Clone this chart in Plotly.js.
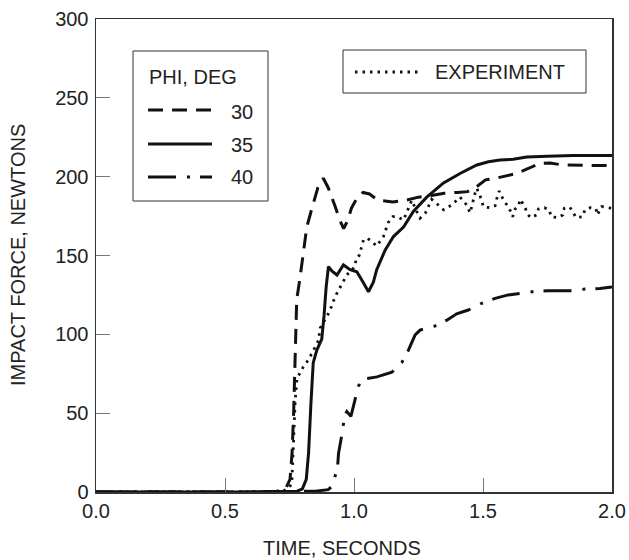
<!DOCTYPE html>
<html>
<head>
<meta charset="utf-8">
<script src="https://cdn.plot.ly/plotly-3.0.1.min.js"></script>
<style>html,body{margin:0;padding:0;background:#fff;}#chart{width:629px;height:560px;}</style>
</head>
<body>
<div id="chart"></div>
<script>
// ---- data ----
const phi30_t = [0, 0.6, 0.70, 0.735, 0.752, 0.760, 0.766, 0.772, 0.778, 0.79, 0.805, 0.817, 0.837, 0.86, 0.881, 0.90, 0.925, 0.946, 0.96, 0.975, 0.99, 1.01, 1.035, 1.06, 1.094, 1.15, 1.2, 1.25, 1.30, 1.35, 1.40, 1.44, 1.47, 1.51, 1.55, 1.59, 1.63, 1.68, 1.72, 1.76, 1.81, 1.9, 2.0];
const phi30_f = [0, 0, 0.5, 2, 8, 25, 50, 90, 122, 135, 155, 168, 180, 193, 199, 193, 182, 172, 167, 172, 180, 186, 190, 189, 185, 184, 185, 187, 188, 189.5, 190, 190.5, 193, 198, 199, 200.5, 202, 205.5, 208.5, 208.6, 207.4, 207.2, 207];

const phi35_t = [0, 0.6, 0.78, 0.80, 0.815, 0.824, 0.833, 0.842, 0.856, 0.875, 0.884, 0.892, 0.901, 0.915, 0.934, 0.959, 0.985, 1.011, 1.037, 1.056, 1.075, 1.088, 1.121, 1.153, 1.192, 1.23, 1.282, 1.347, 1.411, 1.476, 1.521, 1.566, 1.617, 1.67, 1.75, 1.85, 2.0];
const phi35_f = [0, 0, 0.5, 2, 8, 25, 56, 82, 90, 97, 112, 130, 143, 140, 137.6, 144, 141, 139.7, 132.5, 127, 133, 141, 153.5, 162, 168, 178, 187, 196, 202, 207.4, 209.5, 210.6, 211, 212.5, 213, 213.5, 213.5];

const phi40_t = [0, 0.6, 0.85, 0.90, 0.914, 0.925, 0.936, 0.940, 0.948, 0.957, 0.962, 0.972, 0.988, 1.004, 1.017, 1.03, 1.05, 1.089, 1.147, 1.185, 1.211, 1.237, 1.256, 1.31, 1.36, 1.398, 1.443, 1.495, 1.547, 1.598, 1.637, 1.689, 1.747, 1.844, 1.895, 1.953, 2.0];
const phi40_f = [0, 0, 0.5, 1.5, 3.4, 9, 15, 24.5, 32, 40, 48, 51, 48, 58, 67, 71, 72, 73, 76, 82, 90, 99.6, 102.7, 105, 109, 113, 115.4, 119.7, 122.8, 125, 126, 127, 127.7, 127.7, 128.7, 129, 130];

const exp_t = [0, 0.70, 0.73, 0.75, 0.759, 0.765, 0.772, 0.779, 0.79, 0.804, 0.824, 0.843, 0.862, 0.869, 0.885, 0.905, 0.927, 0.946, 0.972, 1.004, 1.008, 1.02, 1.037, 1.05, 1.069, 1.088, 1.114, 1.133, 1.15, 1.166, 1.192, 1.211, 1.224, 1.243, 1.256, 1.276, 1.301, 1.327, 1.347, 1.379, 1.411, 1.437, 1.45, 1.469, 1.476, 1.494, 1.501, 1.525, 1.547, 1.553, 1.563, 1.573, 1.586, 1.596, 1.608, 1.615, 1.624, 1.637, 1.644, 1.654, 1.663, 1.672, 1.685, 1.708, 1.715, 1.738, 1.757, 1.764, 1.788, 1.809, 1.815, 1.837, 1.850, 1.861, 1.886, 1.895, 1.915, 1.938, 1.943, 1.960, 1.985, 2.0];
const exp_f = [0, 0, 1, 3, 6, 33, 58, 72, 75, 79.5, 84, 90, 96, 104, 109, 114.4, 124, 130, 137.6, 143, 148, 150, 160, 161, 159, 156, 162, 171, 174.6, 174.6, 172.5, 180, 185, 178, 173.6, 176.7, 185.6, 182, 179, 182, 187, 182, 177, 189.4, 192.6, 185.6, 181, 180.3, 181.6, 185.8, 190.9, 187.3, 184, 180.6, 177.8, 174.6, 179.3, 181.4, 185.6, 183, 180.6, 176.3, 174, 175.7, 179.5, 180.3, 178.9, 174.6, 174, 175.7, 179.9, 180.6, 177.4, 174, 174.6, 178.9, 180.3, 179.5, 175.7, 181, 180.3, 180];

const xTickVals = [0, 0.5, 1.0, 1.5, 2.0];
const xTickText = ['0.0', '0.5', '1.0', '1.5', '2.0'];
const yTickVals = [0, 50, 100, 150, 200, 250, 300];

const legendTitle = 'PHI, DEG';
const legendLabels = ['30', '35', '40'];
const expLabel = 'EXPERIMENT';
const xTitle = 'TIME, SECONDS';
const yTitle = 'IMPACT FORCE, NEWTONS';

// ---- styles ----
const FONT = 'Liberation Sans, Arial, Helvetica, sans-serif';
const INK = '#111';
const dash30 = '15px,9px';
const dash40 = '28px,11px,3px,10px';
const dashExp = '2.5px,5px';

// plot area in pixels
const L = 96, R = 612, T = 19, B = 492;
const px = v => (v - L) / (R - L);
const py = v => (B - v) / (B - T);

const traces = [
  {x: phi30_t, y: phi30_f, mode: 'lines', line: {color: INK, width: 3, dash: dash30}},
  {x: phi35_t, y: phi35_f, mode: 'lines', line: {color: INK, width: 3}},
  {x: phi40_t, y: phi40_f, mode: 'lines', line: {color: INK, width: 3, dash: dash40}},
  {x: exp_t, y: exp_f, mode: 'lines', line: {color: INK, width: 2.8, dash: dashExp}}
];

const shapes = [
  // legend 1 box
  {type: 'rect', xref: 'paper', yref: 'paper', x0: px(133), x1: px(268), y0: py(201), y1: py(51), line: {color: '#333', width: 1}, fillcolor: 'rgba(0,0,0,0)'},
  {type: 'line', xref: 'paper', yref: 'paper', x0: px(148), x1: px(212), y0: py(110), y1: py(110), line: {color: INK, width: 3, dash: dash30}},
  {type: 'line', xref: 'paper', yref: 'paper', x0: px(148), x1: px(212), y0: py(144), y1: py(144), line: {color: INK, width: 3}},
  {type: 'line', xref: 'paper', yref: 'paper', x0: px(148), x1: px(212), y0: py(177), y1: py(177), line: {color: INK, width: 3, dash: dash40}},
  // legend 2 box
  {type: 'rect', xref: 'paper', yref: 'paper', x0: px(343), x1: px(586), y0: py(93), y1: py(50), line: {color: '#333', width: 1}, fillcolor: 'rgba(0,0,0,0)'},
  {type: 'line', xref: 'paper', yref: 'paper', x0: px(355), x1: px(418), y0: py(72), y1: py(72), line: {color: INK, width: 2.8, dash: dashExp}}
];

const ann = (text, x, y, xanchor, extra) => Object.assign({
  text: text, xref: 'paper', yref: 'paper', x: x, y: y, xanchor: xanchor, yanchor: 'middle',
  showarrow: false, font: {family: FONT, size: 20, color: '#222'}
}, extra || {});

const annotations = [
  ann(legendTitle, px(147), py(77), 'left'),
  ann(legendLabels[0], px(229), py(112), 'left'),
  ann(legendLabels[1], px(229), py(145), 'left'),
  ann(legendLabels[2], px(229), py(177), 'left'),
  ann(expLabel, px(433), py(72), 'left'),
  ann(xTitle, px(342), py(548), 'center'),
  ann(yTitle, px(18), py(255), 'center', {textangle: -90})
];

const axisCommon = {
  showgrid: false, zeroline: false,
  showline: true, mirror: true, linecolor: '#333', linewidth: 1.5,
  ticks: 'inside', ticklen: 14, tickwidth: 1, tickcolor: '#777',
  tickfont: {family: FONT, size: 20, color: '#222'},
  fixedrange: true
};

const layout = {
  width: 629, height: 560,
  margin: {l: L, r: 629 - R, t: T, b: 560 - B, pad: 0},
  paper_bgcolor: '#fff', plot_bgcolor: '#fff',
  showlegend: false,
  xaxis: Object.assign({}, axisCommon, {range: [0, 2], tickmode: 'array', tickvals: xTickVals, ticktext: xTickText}),
  yaxis: Object.assign({}, axisCommon, {range: [0, 300], tickmode: 'array', tickvals: yTickVals, ticklabelstandoff: 2}),
  shapes: shapes,
  annotations: annotations
};

Plotly.newPlot('chart', traces, layout, {displayModeBar: false, staticPlot: true});
</script>
</body>
</html>
